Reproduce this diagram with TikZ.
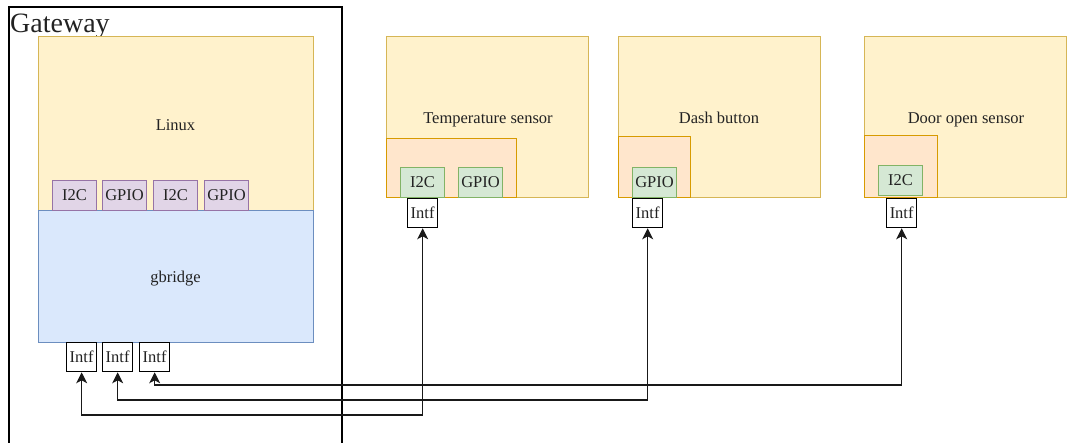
\documentclass[tikz,border=0pt]{standalone}
\usepackage{fontspec}
\setmainfont{Liberation Serif}
\usetikzlibrary{arrows.meta}

\definecolor{linuxfill}{HTML}{FFF2CC}
\definecolor{linuxline}{HTML}{D6B656}
\definecolor{bridgefill}{HTML}{DAE8FC}
\definecolor{bridgeline}{HTML}{6C8EBF}
\definecolor{portfill}{HTML}{E1D5E7}
\definecolor{portline}{HTML}{9673A6}
\definecolor{chipfill}{HTML}{FFE6CC}
\definecolor{chipline}{HTML}{D79B00}
\definecolor{busfill}{HTML}{D5E8D4}
\definecolor{busline}{HTML}{82B366}
\definecolor{txt}{HTML}{222222}

\tikzset{
  blk/.style={draw, line width=1pt, inner sep=0pt, anchor=north west,
    font=\fontsize{16.5}{18}\selectfont, text=txt},
  osblk/.style={blk, fill=linuxfill, draw=linuxline},
  bridgeblk/.style={blk, fill=bridgefill, draw=bridgeline},
  portblk/.style={blk, fill=portfill, draw=portline,
    minimum width=44pt, minimum height=30pt},
  sensorblk/.style={blk, fill=linuxfill, draw=linuxline,
    minimum width=202pt, minimum height=161pt},
  chipblk/.style={blk, fill=chipfill, draw=chipline, line width=1.2pt},
  busblk/.style={blk, fill=busfill, draw=busline,
    minimum width=44pt, minimum height=30pt},
  intfblk/.style={blk, fill=white, draw=black, line width=1.3pt,
    minimum width=30pt, minimum height=29pt},
  lbl/.style={inner sep=0pt, anchor=base, font=\fontsize{16.5}{18}\selectfont, text=txt},
  link/.style={draw=black!90, line width=1.3pt,
    {Stealth[length=11pt,width=11pt,inset=3pt]}-{Stealth[length=11pt,width=11pt,inset=3pt]}},
}

\begin{document}
\begin{tikzpicture}[x=1pt, y=-1pt]
\useasboundingbox (0,0) rectangle (1067,442);

% Gateway enclosure (open at the bottom edge)
\draw[line width=1.3pt] (9,460) -- (9,7) coordinate (gwtl) -- (342,7) -- (342,460);
\node[anchor=base west, inner sep=0pt, font=\fontsize{28}{30}\selectfont, text=txt]
  (gwlabel) at (10,32) {Gateway};

% Linux and gbridge layers
\node[osblk, minimum width=275pt, minimum height=174pt] (linux) at (38,36) {};
\node[lbl] (linuxlabel) at (175.5,130) {Linux};
\node[bridgeblk, minimum width=275pt, minimum height=132pt] (gbridge) at (38,210) {};
\node[lbl] (gbridgelabel) at (175.5,282) {gbridge};

% Linux-side ports
\node[portblk] (p1) at (52,180) {I2C};
\node[portblk] (p2) at (102,180) {GPIO};
\node[portblk] (p3) at (153,180) {I2C};
\node[portblk] (p4) at (204,180) {GPIO};

% gbridge interfaces
\node[intfblk] (gi1) at (66,342) {Intf};
\node[intfblk] (gi2) at (102,342) {Intf};
\node[intfblk] (gi3) at (139,342) {Intf};

% Temperature sensor
\node[sensorblk] (temp) at (386,36) {};
\node[lbl] (templabel) at (488,123) {Temperature sensor};
\node[chipblk, minimum width=130pt, minimum height=59pt] (tempchip) at (386,138) {};
\node[busblk] (tempi2c) at (400,167) {I2C};
\node[busblk] (tempgpio) at (458,167) {GPIO};
\node[intfblk] (ti) at (407,198) {Intf};

% Dash button
\node[sensorblk] (dash) at (618,36) {};
\node[lbl] (dashlabel) at (719,123) {Dash button};
\node[chipblk, minimum width=72pt, minimum height=61pt] (dashchip) at (618,136) {};
\node[busblk] (dashgpio) at (632,167) {GPIO};
\node[intfblk] (di) at (632,198) {Intf};

% Door open sensor
\node[sensorblk] (door) at (864,36) {};
\node[lbl] (doorlabel) at (966,123) {Door open sensor};
\node[chipblk, minimum width=73pt, minimum height=62pt] (doorchip) at (864,135) {};
\node[busblk] (doori2c) at (878,165) {I2C};
\node[intfblk] (ri) at (886,198) {Intf};

% Bus routing levels
\coordinate (lvlA) at (0,415);
\coordinate (lvlB) at (0,400);
\coordinate (lvlC) at (0,385);

% Links between gateway interfaces and sensor interfaces
\draw[link] (gi1.south) -- (gi1.south |- lvlA) -- (ti.south |- lvlA) -- (ti.south);
\draw[link] (gi2.south) -- (gi2.south |- lvlB) -- (di.south |- lvlB) -- (di.south);
\draw[link] (gi3.south) -- (gi3.south |- lvlC) -- (ri.south |- lvlC) -- (ri.south);
\end{tikzpicture}
\end{document}
